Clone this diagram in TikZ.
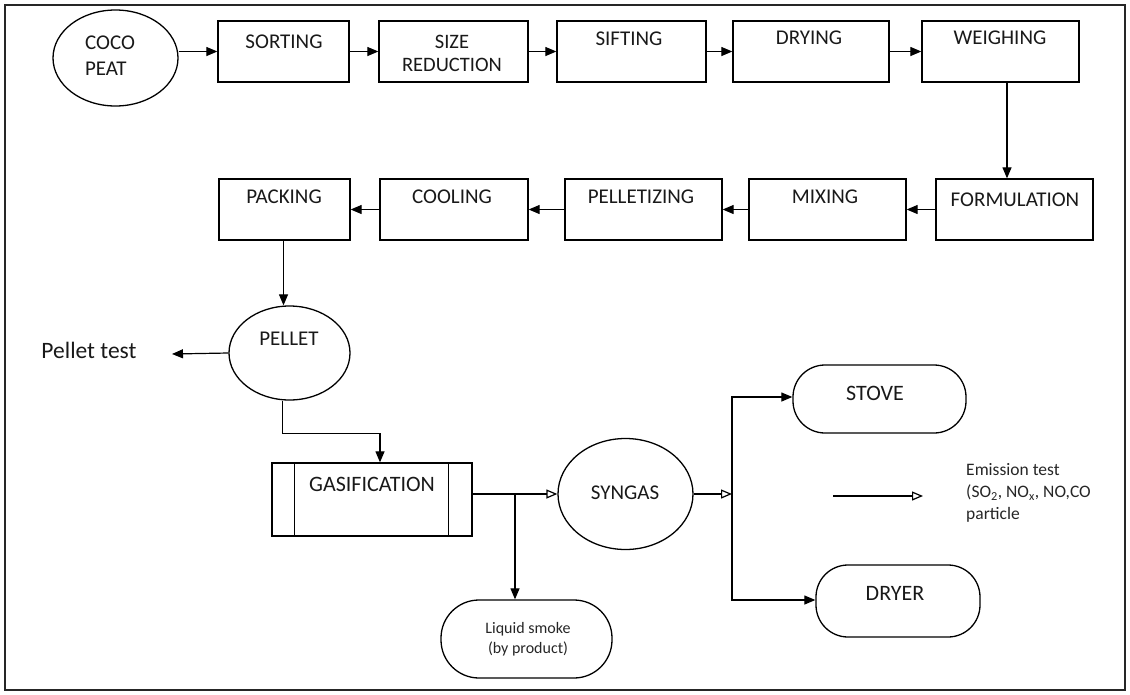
\documentclass[tikz,border=0pt]{standalone}
\usepackage{fontspec}
\setmainfont{Carlito}
\usetikzlibrary{arrows.meta,shapes.geometric,calc}
\begin{document}
\begin{tikzpicture}[x=1pt,y=-1pt,
  box/.style={draw, line width=1.3pt, rectangle, inner sep=0pt},
  oval/.style={draw, line width=1.3pt, ellipse, inner sep=0pt},
  pill/.style={draw, line width=1.3pt, rectangle, inner sep=0pt, rounded corners=32pt},
  lbl/.style={font=\fontsize{21}{26}\selectfont, inner sep=0pt, align=center, text=black!90},
  small/.style={font=\fontsize{16}{20}\selectfont, inner sep=0pt, align=center, text=black!85},
  arr/.style={-{Triangle[length=11pt,width=9pt]}, line width=1.2pt},
  arro/.style={-{Triangle[open,length=11pt,width=9pt]}, line width=1.2pt}]
\useasboundingbox (0,0) rectangle (1130,694);
\draw[line width=1.5pt, black!85] (5,5) rectangle (1125,690);

% top row
\node[oval, minimum width=125pt, minimum height=96pt] (coco) at (115.5,58) {};
\node[lbl, align=left] (cocoT) at (110,56) {COCO\\PEAT};
\node[box, minimum width=131pt, minimum height=61pt] (sorting) at (283.5,51.5) {};
\node[lbl] (sortingT) at (284,42) {SORTING};
\node[box, minimum width=149pt, minimum height=61pt] (sizered) at (453.5,51.5) {};
\node[lbl, font=\fontsize{20.5}{23}\selectfont] (sizeredT) at (452,53.5) {SIZE\\REDUCTION};
\node[box, minimum width=149pt, minimum height=61pt] (sifting) at (631.5,51.5) {};
\node[lbl] (siftingT) at (629,39) {SIFTING};
\node[box, minimum width=156pt, minimum height=61pt] (drying) at (811,51.5) {};
\node[lbl] (dryingT) at (809,38) {DRYING};
\node[box, minimum width=157pt, minimum height=61pt] (weighing) at (1000.5,51.5) {};
\node[lbl] (weighingT) at (1000,38) {WEIGHING};

% second row
\node[box, minimum width=157pt, minimum height=61pt] (formulation) at (1014.5,209.5) {};
\node[lbl] (formulationT) at (1015,200) {FORMULATION};
\node[box, minimum width=157pt, minimum height=61pt] (mixing) at (827.5,209.5) {};
\node[lbl] (mixingT) at (825,197) {MIXING};
\node[box, minimum width=157pt, minimum height=61pt] (pelletizing) at (643.5,209.5) {};
\node[lbl] (pelletizingT) at (641,197) {PELLETIZING};
\node[box, minimum width=148pt, minimum height=61pt] (cooling) at (454,209.5) {};
\node[lbl] (coolingT) at (452,197) {COOLING};
\node[box, minimum width=131pt, minimum height=61pt] (packing) at (284.5,209.5) {};
\node[lbl] (packingT) at (284,197) {PACKING};

% pellet
\node[oval, minimum width=121pt, minimum height=94pt] (pellet) at (289.5,353) {};
\node[lbl] (pelletT) at (289,339) {PELLET};
\node[lbl, font=\fontsize{23.5}{27}\selectfont] (pellettest) at (89,350) {Pellet test};
\coordinate (ptend) at (172,354);

% gasification
\node[box, minimum width=200pt, minimum height=73pt] (gas) at (372,499.5) {};
\draw[line width=1.3pt] ([xshift=23pt]gas.north west) -- ([xshift=23pt]gas.south west);
\draw[line width=1.3pt] ([xshift=-24pt]gas.north east) -- ([xshift=-24pt]gas.south east);
\node[lbl, font=\fontsize{22}{26}\selectfont] (gasT) at (372,484) {GASIFICATION};

% syngas and products
\node[oval, minimum width=135pt, minimum height=111pt] (syngas) at (625.5,494) {};
\node[lbl] (syngasT) at (625,493) {SYNGAS};
\node[pill, minimum width=171pt, minimum height=78pt, rounded corners=38pt] (smoke) at (526.5,639) {};
\node[small] (smokeT) at (528,639) {Liquid smoke\\(by product)};
\node[pill, minimum width=173pt, minimum height=68pt] (stove) at (879.5,399) {};
\node[lbl, font=\fontsize{22}{26}\selectfont] (stoveT) at (875,393) {STOVE};
\node[pill, minimum width=164pt, minimum height=72pt] (dryer) at (898,601) {};
\node[lbl, font=\fontsize{22}{26}\selectfont] (dryerT) at (895,593) {DRYER};
\node[inner sep=0pt, anchor=west, align=left, font=\fontsize{17.5}{22}\selectfont, text=black!85] (emT) at (966,493)
  {Emission test\\(SO\textsubscript{2}, NO\textsubscript{x}, NO,CO\\particle};
\coordinate (em1) at (833,496);
\coordinate (em2) at (923,496);
\coordinate (br) at (515,494);
\coordinate (split) at (732,494);
\coordinate (pk) at ([xshift=-1pt]packing.south);

% connectors
\draw[arr] (coco.east |- sorting.west) -- (sorting.west);
\draw[arr] (sorting.east) -- (sizered.west);
\draw[arr] (sizered.east) -- (sifting.west);
\draw[arr] (sifting.east) -- (drying.west);
\draw[arr] (drying.east) -- (weighing.west);
\draw[arr] ([xshift=6.5pt]weighing.south) -- ([xshift=6.5pt]weighing.south |- formulation.north);
\draw[arr] (formulation.west) -- (mixing.east);
\draw[arr] (mixing.west) -- (pelletizing.east);
\draw[arr] (pelletizing.west) -- (cooling.east);
\draw[arr] (cooling.west) -- (packing.east);
\draw[arr] (pk) -- (pk |- pellet.north);
\draw[arr] (pellet.west) -- (ptend);
\draw[arr] ([xshift=-7pt]pellet.south) -- ++(0,33) -| ([xshift=8pt]gas.north);
\draw[arro] (gas.east |- syngas.west) -- (syngas.west);
\draw[arr] (br) -- (br |- smoke.north);
\draw[arro] (syngas.east) -- (split);
\draw[arr] (split) |- ([yshift=2pt]stove.west);
\draw[arr] (split) |- ([yshift=1pt]dryer.west);
\draw[arro] (em1) -- (em2);
\end{tikzpicture}
\end{document}
